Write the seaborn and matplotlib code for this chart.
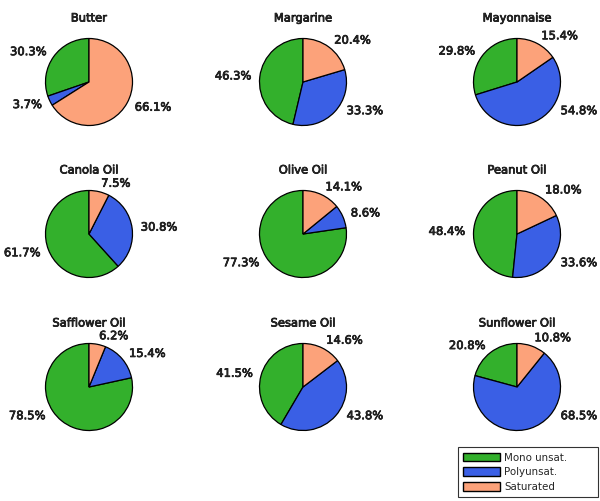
import matplotlib
matplotlib.use("Agg")
import numpy as np
import matplotlib.pyplot as plt
import matplotlib.patheffects as pe
from matplotlib.patches import Patch
import seaborn as sns

# Fat composition per food (%)
foods = ['Butter', 'Margarine', 'Mayonnaise',
         'Canola Oil', 'Olive Oil', 'Peanut Oil',
         'Safflower Oil', 'Sesame Oil', 'Sunflower Oil']
mono = [30.3, 46.3, 29.8, 61.7, 77.3, 48.4, 78.5, 41.5, 20.8]
poly = [3.7, 33.3, 54.8, 30.8, 8.6, 33.6, 15.4, 43.8, 68.5]
sat = [66.1, 20.4, 15.4, 7.5, 14.1, 18.0, 6.2, 14.6, 10.8]
series = ['Mono unsat.', 'Polyunsat.', 'Saturated']

sns.set_style("white")
colors = ['#33b02c', '#3a5fe5', '#fca27a']

W, H = 600, 501
fig = plt.figure(figsize=(W / 100, H / 100), dpi=100)

col_x = [89, 303, 517]
row_y = [82, 234, 387]
R = 43.5          # pie radius in pixels
aw, ah = 200, 150  # axes box in pixels
fs = 8.3
heavy = [pe.withStroke(linewidth=0.5, foreground='black')]

for i, food in enumerate(foods):
    cx = col_x[i % 3]
    cy = row_y[i // 3]
    ax = fig.add_axes([(cx - aw / 2) / W, (H - cy - ah / 2) / H, aw / W, ah / H])
    vals = [mono[i], poly[i], sat[i]]
    wedges, _ = ax.pie(vals, colors=colors, startangle=90, counterclock=True,
                       wedgeprops=dict(edgecolor='black', linewidth=0.9))
    # percentage labels just outside the wedges, kept out of the bottom of the pie
    for w, v in zip(wedges, vals):
        th = np.deg2rad((w.theta1 + w.theta2) / 2)
        c, s = np.cos(th), np.sin(th)
        if s < -0.55:
            s = -0.55
            c = np.sign(c) * np.sqrt(1 - s ** 2)
        ax.text(1.2 * c, 1.2 * s, f"{v:.1f}%", ha='left' if c >= 0 else 'right',
                va='center', fontsize=fs, path_effects=heavy)
    ax.set_xlim(-aw / 2 / R, aw / 2 / R)
    ax.set_ylim(-ah / 2 / R, ah / 2 / R)
    ax.text(0, 64 / R, food, ha='center', va='center', fontsize=fs, path_effects=heavy)
    ax.axis('off')

handles = [Patch(facecolor=c, edgecolor='black', label=s) for c, s in zip(colors, series)]
leg = fig.legend(handles=handles, loc='lower left', mode='expand',
                 bbox_to_anchor=(458 / W, 4 / H, 140 / W, 54 / H), borderaxespad=0,
                 prop=dict(size=7.4), frameon=True, fancybox=False, handlelength=3.6,
                 handleheight=0.9, labelspacing=0.45, borderpad=0.5, handletextpad=0.4)
leg.get_frame().set_edgecolor('black')
leg.get_frame().set_linewidth(0.8)

plt.savefig('out.png', dpi=100)
